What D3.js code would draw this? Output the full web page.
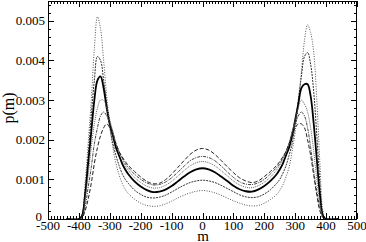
<!DOCTYPE html>
<html><head><meta charset="utf-8">
<script src="https://cdn.jsdelivr.net/npm/d3@7"></script>
<style>body{margin:0;background:#fff}svg{display:block}</style>
</head><body>
<svg id="c" width="366" height="242"></svg>
<script>
const mGrid = [-440,-400,-390,-380,-370,-360,-350,-340,-330,-320,-310,-300,-290,-280,-270,-260,-250,-240,-220,-200,-180,-160,-140,-120,-100,-80,-60,-40,-20,
  0,
  20,40,60,80,100,120,140,160,180,200,220,240,250,260,270,280,290,300,310,320,330,340,350,360,370,380,390,400,440];

const seriesA = [0,0,0.0001,0.0009,0.0019,0.0030,0.0043,0.0051,0.0048,0.0040,0.0031,0.0024,0.0018,0.0014,0.00112,0.0009,0.00075,0.00064,0.0005,0.0004,0.00034,0.00032,0.00033,0.00038,0.00045,0.00053,0.0006,0.00066,0.0007,
  0.00072,
  0.0007,0.00066,0.0006,0.00053,0.00046,0.0004,0.00035,0.00033,0.00034,0.0004,0.00049,0.00062,0.00072,0.00086,0.00106,0.0013,0.0017,0.0022,0.0029,0.0037,0.0045,0.0049,0.0047,0.0042,0.003,0.0014,0.0002,0,0];
const seriesB = [0,0,0.0001,0.0007,0.0016,0.0026,0.0035,0.0041,0.0040,0.0035,0.0029,0.0023,0.0019,0.0016,0.00135,0.00115,0.001,0.0009,0.00073,0.00062,0.00055,0.00053,0.00055,0.0006,0.00068,0.00077,0.00085,0.00092,0.00096,
  0.00098,
  0.00096,0.00092,0.00085,0.00077,0.00069,0.00061,0.00056,0.00054,0.00056,0.00063,0.00074,0.0009,0.001,0.00115,0.00134,0.0016,0.0019,0.0024,0.003,0.0036,0.0041,0.0042,0.0039,0.0032,0.0021,0.0009,0.0001,0,0];
const seriesC = [0,0,0.00008,0.0006,0.0014,0.0022,0.003,0.0035,0.0036,0.0033,0.0028,0.0024,0.0021,0.0018,0.0016,0.0014,0.00125,0.00113,0.00095,0.00082,0.00073,0.00068,0.00069,0.00074,0.00083,0.00095,0.00107,0.00118,0.00125,
  0.00128,
  0.00125,0.00118,0.00107,0.00096,0.00084,0.00075,0.0007,0.00069,0.00074,0.00083,0.00096,0.00113,0.00125,0.0014,0.0016,0.0018,0.0021,0.0025,0.0029,0.0033,0.0034,0.0034,0.0031,0.0024,0.0015,0.0006,0.00008,0,0];
const seriesD = [0,0,0.00005,0.0005,0.0011,0.0018,0.0024,0.0028,0.003,0.003,0.0028,0.0025,0.0022,0.0019,0.0017,0.0015,0.00135,0.00123,0.00105,0.00092,0.00083,0.00078,0.00079,0.00085,0.00095,0.00108,0.00122,0.00134,0.00142,
  0.00145,
  0.00142,0.00134,0.00122,0.00109,0.00096,0.00086,0.0008,0.00079,0.00084,0.00093,0.00106,0.00124,0.00136,0.0015,0.0017,0.0019,0.0022,0.0025,0.0028,0.003,0.0029,0.0027,0.0023,0.0017,0.001,0.0004,0.00005,0,0];
const seriesE = [0,0,0.00004,0.0003,0.0008,0.0013,0.0019,0.0023,0.0026,0.0027,0.0026,0.0024,0.0022,0.0019,0.0017,0.00155,0.0014,0.0013,0.00113,0.001,0.00091,0.00086,0.00087,0.00093,0.00104,0.00118,0.00133,0.00147,0.00155,
  0.00158,
  0.00155,0.00147,0.00134,0.00119,0.00105,0.00094,0.00088,0.00087,0.00091,0.001,0.00114,0.0013,0.0014,0.00155,0.0017,0.0019,0.0022,0.0024,0.0026,0.0027,0.0026,0.0023,0.0018,0.0012,0.0007,0.0003,0.00004,0,0];
const seriesF = [0,0,0.00003,0.0002,0.0005,0.0009,0.0014,0.0018,0.0021,0.0023,0.0024,0.0023,0.0021,0.0019,0.0017,0.00157,0.00145,0.00135,0.0012,0.00106,0.00095,0.00089,0.0009,0.00099,0.00113,0.0013,0.00147,0.00163,0.00174,
  0.00178,
  0.00174,0.00163,0.00148,0.00132,0.00117,0.00104,0.00096,0.00092,0.00096,0.00107,0.0012,0.00135,0.00145,0.00157,0.0017,0.0019,0.0021,0.0023,0.0024,0.0024,0.0023,0.002,0.0016,0.0011,0.0006,0.0002,0.00003,0,0];

const seriesList = [
  {values: seriesA, color: "#555", width: 1, dash: "1,1.5"},
  {values: seriesB, color: "#333", width: 1, dash: "2,1"},
  {values: seriesC, color: "#000", width: 1.8, dash: null},
  {values: seriesD, color: "#666", width: 1, dash: "1,1"},
  {values: seriesE, color: "#444", width: 1, dash: "3,1,1,1"},
  {values: seriesF, color: "#222", width: 1, dash: "4,2"}
];

const xTicks = [-500,-400,-300,-200,-100,0,100,200,300,400,500];
const yTicks = [0,0.001,0.002,0.003,0.004,0.005];
const yTickLabels = ["0","0.001","0.002","0.003","0.004","0.005"];

const L = 48, R = 357, T = 1, B = 219;
const svg = d3.select("#c");
const x = d3.scaleLinear().domain([-500,500]).range([L,R]);
const y = d3.scaleLinear().domain([0,0.0055]).range([B,T]);
const font = "'Liberation Serif','Times New Roman',serif";

// curves
svg.append("clipPath").attr("id","cp").append("rect")
  .attr("x",L).attr("y",T).attr("width",R-L).attr("height",B-T);
const line = d3.line().x((d,i)=>x(mGrid[i])).y(d=>y(d)).curve(d3.curveCatmullRom.alpha(0.5));
const g = svg.append("g").attr("clip-path","url(#cp)");
seriesList.forEach(s=>{
  g.append("path").datum(s.values).attr("d",line)
    .attr("fill","none").attr("stroke",s.color).attr("stroke-width",s.width)
    .attr("stroke-dasharray",s.dash);
});

// frame
svg.append("rect").attr("x",L+0.5).attr("y",T+0.5).attr("width",R-L-1).attr("height",B-T)
  .attr("fill","none").attr("stroke","#000").attr("stroke-width",1);

// ticks
const xMinor = d3.range(-500,501,10).filter(v=>v%100!==0);
const yMinor = d3.range(0,0.00551,0.0002).filter(v=>Math.abs(Math.round(v*1000)-v*1000)>1e-6);
const tk = svg.append("g").attr("stroke","#000").attr("stroke-width",1);
function px(v){return Math.round(x(v))+0.5;}
function py(v){return Math.round(y(v))+0.5;}
xTicks.forEach(v=>{
  tk.append("line").attr("x1",px(v)).attr("x2",px(v)).attr("y1",B).attr("y2",B-6);
  tk.append("line").attr("x1",px(v)).attr("x2",px(v)).attr("y1",T).attr("y2",T+6);
});
xMinor.forEach(v=>{
  tk.append("line").attr("x1",px(v)).attr("x2",px(v)).attr("y1",B).attr("y2",B-3);
  tk.append("line").attr("x1",px(v)).attr("x2",px(v)).attr("y1",T).attr("y2",T+3);
});
yTicks.forEach(v=>{
  tk.append("line").attr("y1",py(v)).attr("y2",py(v)).attr("x1",L).attr("x2",L+6);
  tk.append("line").attr("y1",py(v)).attr("y2",py(v)).attr("x1",R).attr("x2",R-6);
});
yMinor.forEach(v=>{
  tk.append("line").attr("y1",py(v)).attr("y2",py(v)).attr("x1",L).attr("x2",L+3);
  tk.append("line").attr("y1",py(v)).attr("y2",py(v)).attr("x1",R).attr("x2",R-3);
});

// labels
svg.append("g").selectAll("text").data(xTicks).join("text")
  .attr("x",d=>x(d)).attr("y",229.5).attr("text-anchor","middle")
  .attr("font-family",font).attr("font-size",13).text(d=>String(d));
svg.append("g").selectAll("text").data(yTicks).join("text")
  .attr("x",(d,i)=>i===0?42:45).attr("y",(d,i)=>i===0?y(d)+1.5:y(d)+4.5).attr("text-anchor","end")
  .attr("font-family",font).attr("font-size",13).text((d,i)=>yTickLabels[i]);
svg.append("text").attr("x",203).attr("y",240.5).attr("text-anchor","middle")
  .attr("font-family",font).attr("font-size",15).text("m");
svg.append("text").attr("transform","translate(14,108) rotate(-90)").attr("text-anchor","middle")
  .attr("font-family",font).attr("font-size",16).text("p(m)");
</script>
</body></html>
